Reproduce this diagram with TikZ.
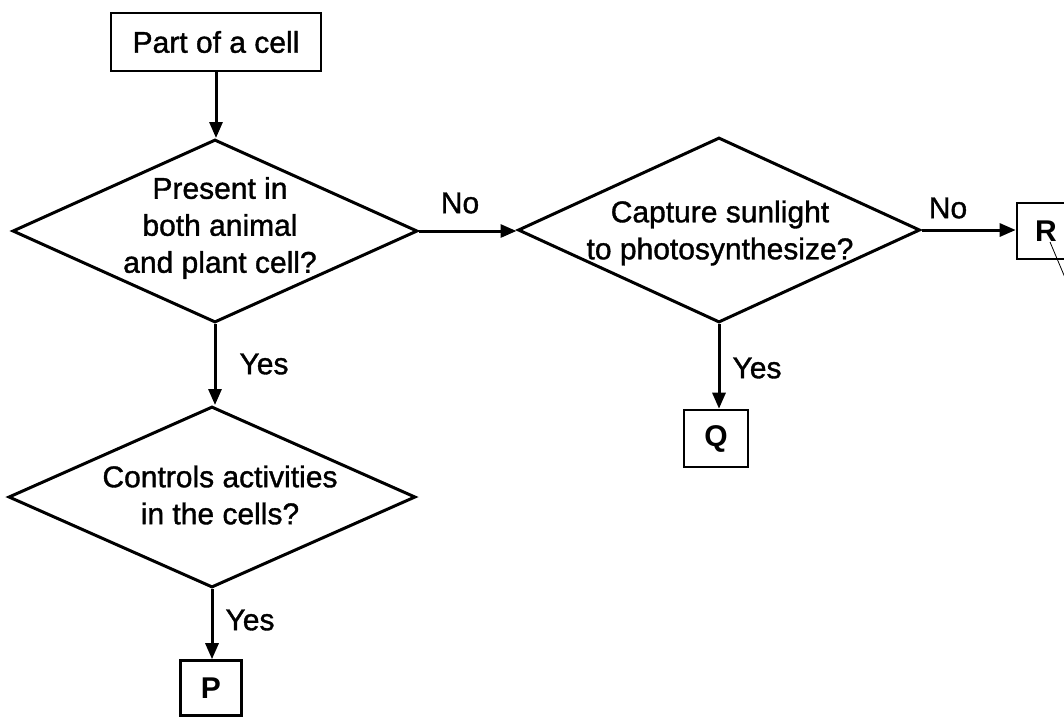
\documentclass[tikz,border=0pt]{standalone}
\usepackage{fontspec}
\setmainfont{Liberation Sans}
\newfontfamily\scanfont{Liberation Sans}[BoldFont={Liberation Sans}, BoldFeatures={FakeBold=1.2}]
\usetikzlibrary{shapes.geometric,arrows.meta}
\tikzset{
  box/.style={draw, line width=2.6pt, inner sep=0pt},
  dia/.style={draw, diamond, line width=3pt, inner sep=0pt},
  arr/.style={line width=3pt, -{Triangle[length=16pt,width=13pt]}},
  lab/.style={inner sep=0pt, font=\scanfont\bfseries\fontsize{30}{36}\selectfont},
  letter/.style={font=\fontsize{30}{36}\selectfont\bfseries},
  txt/.style={align=center, inner sep=0pt, font=\scanfont\bfseries\fontsize{30}{37}\selectfont},
}
\begin{document}
\begin{tikzpicture}[x=1pt,y=-1pt]
\useasboundingbox (0,0) rectangle (1064,716);
\clip (0,0) rectangle (1064,716);
% nodes
\node[box, lab, minimum width=210pt, minimum height=58pt] (top) at (216,42) {Part of a cell};
\node[dia, minimum width=405pt, minimum height=183pt,
      label={[txt, xshift=5pt, yshift=3pt]center:Present in\\both animal\\and plant cell?}] (d1) at (215,231) {};
\node[dia, minimum width=407pt, minimum height=181pt,
      label={[txt, xshift=8pt, yshift=2pt]center:Controls activities\\in the cells?}] (d2) at (212,497) {};
\node[dia, minimum width=402pt, minimum height=185pt,
      label={[txt, xshift=1pt, yshift=-3pt]center:Capture sunlight\\to photosynthesize?}] (d3) at (719,230) {};
\node[box, letter, minimum width=61pt, minimum height=55pt] (p) at (211,688) {P};
\node[box, letter, minimum width=64pt, minimum height=57pt] (q) at (716,438.5) {Q};
\node[box, letter, minimum width=58pt, minimum height=56pt] (r) at (1046,231) {R};
% edge labels
\node[lab] (no1) at (460,203) {No};
\node[lab] (yes1) at (264,364) {Yes};
\node[lab] (no2) at (948,208) {No};
\node[lab] (yes2) at (757,368) {Yes};
\node[lab] (yes3) at (250,620) {Yes};
% connectors
\draw[arr] (top.south) -- (top.south |- d1.north);
\draw[arr] (d1.south) -- (d1.south |- d2.north);
\draw[arr] (d2.south) -- (d2.south |- p.north);
\draw[arr] (d1.east) -- (d1.east -| d3.west);
\draw[arr] (d3.east) -- (d3.east -| r.west);
\draw[arr] (d3.south) -- (d3.south |- q.north);
% stray pen mark from R
\coordinate (rmark) at (1066,280);
\draw[line width=0.8pt] ([xshift=4pt,yshift=-11pt]r.center) -- (rmark);
\end{tikzpicture}
\end{document}
